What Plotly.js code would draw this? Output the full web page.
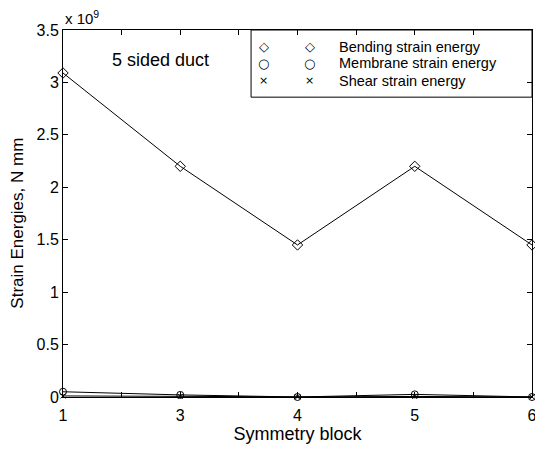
<!DOCTYPE html>
<html>
<head>
<meta charset="utf-8">
<script src="https://cdn.plot.ly/plotly-3.0.1.min.js"></script>
<style>html,body{margin:0;padding:0;background:#fff;}#chart{width:535px;height:450px;}</style>
</head>
<body>
<div id="chart"></div>
<script>
// Symmetry block labels (evenly spaced positions)
const blockLabels = ["1", "3", "4", "5", "6"];
const blockPos = [1, 2, 3, 4, 5];
// Strain energies in units of 1e9 N mm
const bending = [3.09, 2.20, 1.45, 2.20, 1.45];
const membrane = [0.05, 0.02, 0.00, 0.025, 0.00];
const shear = [0.01, 0.005, 0.002, 0.005, 0.002];
const seriesNames = ["Bending strain energy", "Membrane strain energy", "Shear strain energy"];
const yTicks = [0, 0.5, 1, 1.5, 2, 2.5, 3, 3.5];
const yTickText = ["0", "0.5", "1", "1.5", "2", "2.5", "3", "3.5"];

const xTickVals = [];
const xTickText = [];
for (let i = 0; i < blockPos.length; i++) {
  xTickVals.push(blockPos[i]); xTickText.push(blockLabels[i]);
  if (i < blockPos.length - 1) { xTickVals.push(blockPos[i] + 0.5); xTickText.push(""); }
}

const font = "Liberation Sans, Arial, Helvetica, sans-serif";
function tr(y, sym, size) {
  return {x: blockPos, y: y, type: "scatter", mode: "lines+markers",
    line: {color: "#000", width: 1},
    marker: {symbol: sym, size: size, color: "#000", line: {color: "#000", width: 1}},
    cliponaxis: false, showlegend: false};
}
const data = [
  tr(bending, "diamond-open", 8),
  tr(membrane, "circle-open", 7),
  tr(shear, "x-thin-open", 5)
];

const legSyms = ["\u25C7", "\u25CB", "\u00D7"];
const ann = [
  {xref: "paper", yref: "paper", x: 0, y: 1, xanchor: "left", yanchor: "bottom", yshift: 1,
   text: "x 10<sup>9</sup>", showarrow: false, font: {family: font, size: 15, color: "#000"}},
  {xref: "paper", yref: "paper", x: 0.1, y: 0.918, xanchor: "left", yanchor: "middle",
   text: "5 sided duct", showarrow: false, font: {family: font, size: 18, color: "#000"}},
  {xref: "paper", yref: "paper", x: -0.096, y: 0.475, xanchor: "center", yanchor: "middle",
   textangle: -90, text: "Strain Energies, N mm", showarrow: false,
   font: {family: font, size: 17, color: "#000"}}
];
const rowY = [0.955, 0.909, 0.862];
for (let i = 0; i < 3; i++) {
  ann.push({xref: "paper", yref: "paper", x: 0.428, y: rowY[i], xanchor: "center", yanchor: "middle",
    text: legSyms[i], showarrow: false, font: {family: "DejaVu Sans", size: i === 2 ? 11 : 13, color: "#000"}});
  ann.push({xref: "paper", yref: "paper", x: 0.526, y: rowY[i], xanchor: "center", yanchor: "middle",
    text: legSyms[i], showarrow: false, font: {family: "DejaVu Sans", size: i === 2 ? 11 : 13, color: "#000"}});
  ann.push({xref: "paper", yref: "paper", x: 0.585, y: rowY[i], xanchor: "left", yanchor: "middle",
    text: seriesNames[i], showarrow: false, font: {family: font, size: 14.5, color: "#000"}});
}

const layout = {
  width: 535, height: 450,
  margin: {l: 63, r: 3, t: 30, b: 53},
  paper_bgcolor: "#fff", plot_bgcolor: "#fff",
  showlegend: false,
  font: {family: font, color: "#000"},
  xaxis: {range: [1, 5], tickvals: xTickVals, ticktext: xTickText, ticks: "inside", ticklen: 5,
    tickcolor: "#000", showline: true, linecolor: "#000", linewidth: 1, mirror: "ticks",
    ticklabeloverflow: "allow", ticklabelstandoff: 4,
    showgrid: false, zeroline: false, tickfont: {family: font, size: 16, color: "#000"},
    title: {text: "Symmetry block", font: {family: font, size: 18, color: "#000"}, standoff: 3}},
  yaxis: {range: [0, 3.5], tickvals: yTicks, ticktext: yTickText, ticks: "inside", ticklen: 5,
    tickcolor: "#000", showline: true, linecolor: "#000", linewidth: 1, mirror: "ticks",
    showgrid: false, zeroline: false, tickfont: {family: font, size: 16, color: "#000"}},
  shapes: [{type: "rect", xref: "paper", yref: "paper", x0: 0.401, x1: 1, y0: 0.817, y1: 1,
    line: {color: "#000", width: 1}, fillcolor: "#fff", layer: "below"}],
  annotations: ann
};
Plotly.newPlot("chart", data, layout, {displayModeBar: false, staticPlot: true});
</script>
</body>
</html>
